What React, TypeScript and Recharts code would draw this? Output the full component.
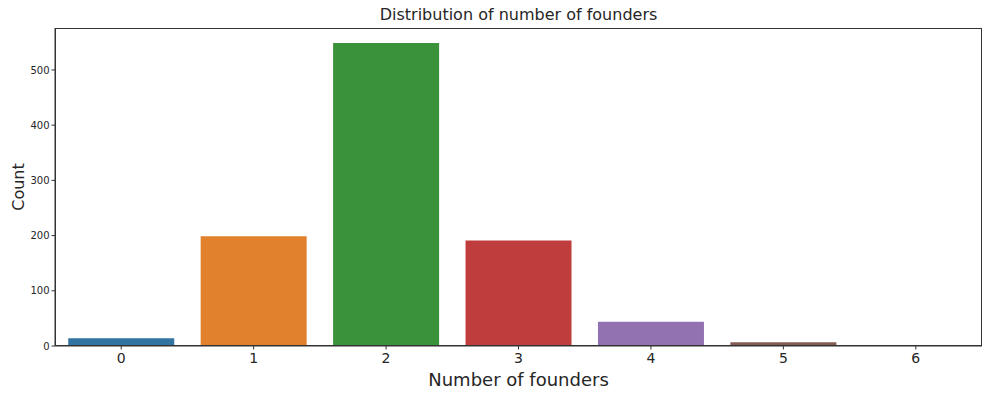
import { BarChart, Bar, XAxis, YAxis, Cell, Label } from "recharts";

const categories = ["0", "1", "2", "3", "4", "5", "6"];
const counts = [14, 199, 549, 191, 44, 7, 2];
const yTicks = [0, 100, 200, 300, 400, 500];
const COLORS = ["#3274a1", "#e1812c", "#3a923a", "#c03d3e", "#9372b2", "#845b53", "#d684bd"];

const data = categories.map((c, i) => ({ founders: c, count: counts[i] }));

const FONT = "DejaVu Sans, sans-serif";
const AXIS = "#333333";

export default function App() {
  return (
    <div style={{ position: "absolute", left: 0, top: 0, width: 998, height: 403, background: "#fff", fontFamily: FONT }}>
      <div
        style={{
          position: "absolute",
          left: 55,
          width: 927,
          top: 5,
          textAlign: "center",
          fontSize: 16,
          color: "#262626",
          lineHeight: "20px",
        }}
      >
        Distribution of number of founders
      </div>
      <BarChart
        width={998}
        height={403}
        data={data}
        barCategoryGap="10%"
        margin={{ top: 28, right: 16, left: 10, bottom: 27 }}
      >
        <XAxis
          dataKey="founders"
          tick={{ fill: "#262626", fontSize: 14, fontFamily: FONT, dy: 2 }}
          tickSize={3.5}
          tickLine={{ stroke: AXIS }}
          axisLine={{ stroke: AXIS }}
          height={30}
          interval={0}
        >
          <Label
            value="Number of founders"
            position="insideBottom"
            offset={-10}
            style={{ fontSize: 18, fill: "#262626", fontFamily: FONT }}
          />
        </XAxis>
        <YAxis
          domain={[0, 576]}
          ticks={yTicks}
          tick={{ fill: "#262626", fontSize: 10, fontFamily: FONT }}
          tickSize={3.5}
          tickLine={{ stroke: AXIS }}
          axisLine={{ stroke: AXIS }}
          width={45}
        >
          <Label
            value="Count"
            angle={-90}
            position="insideLeft"
            offset={8}
            style={{ fontSize: 16, fill: "#262626", fontFamily: FONT, textAnchor: "middle" }}
          />
        </YAxis>
        <Bar dataKey="count" isAnimationActive={false}>
          {data.map((d, i) => (
            <Cell key={d.founders} fill={COLORS[i]} />
          ))}
        </Bar>
      </BarChart>
      <div
        style={{
          position: "absolute",
          left: 55,
          top: 28,
          width: 927,
          height: 318,
          border: `1px solid ${AXIS}`,
          boxSizing: "border-box",
          pointerEvents: "none",
        }}
      />
    </div>
  );
}
